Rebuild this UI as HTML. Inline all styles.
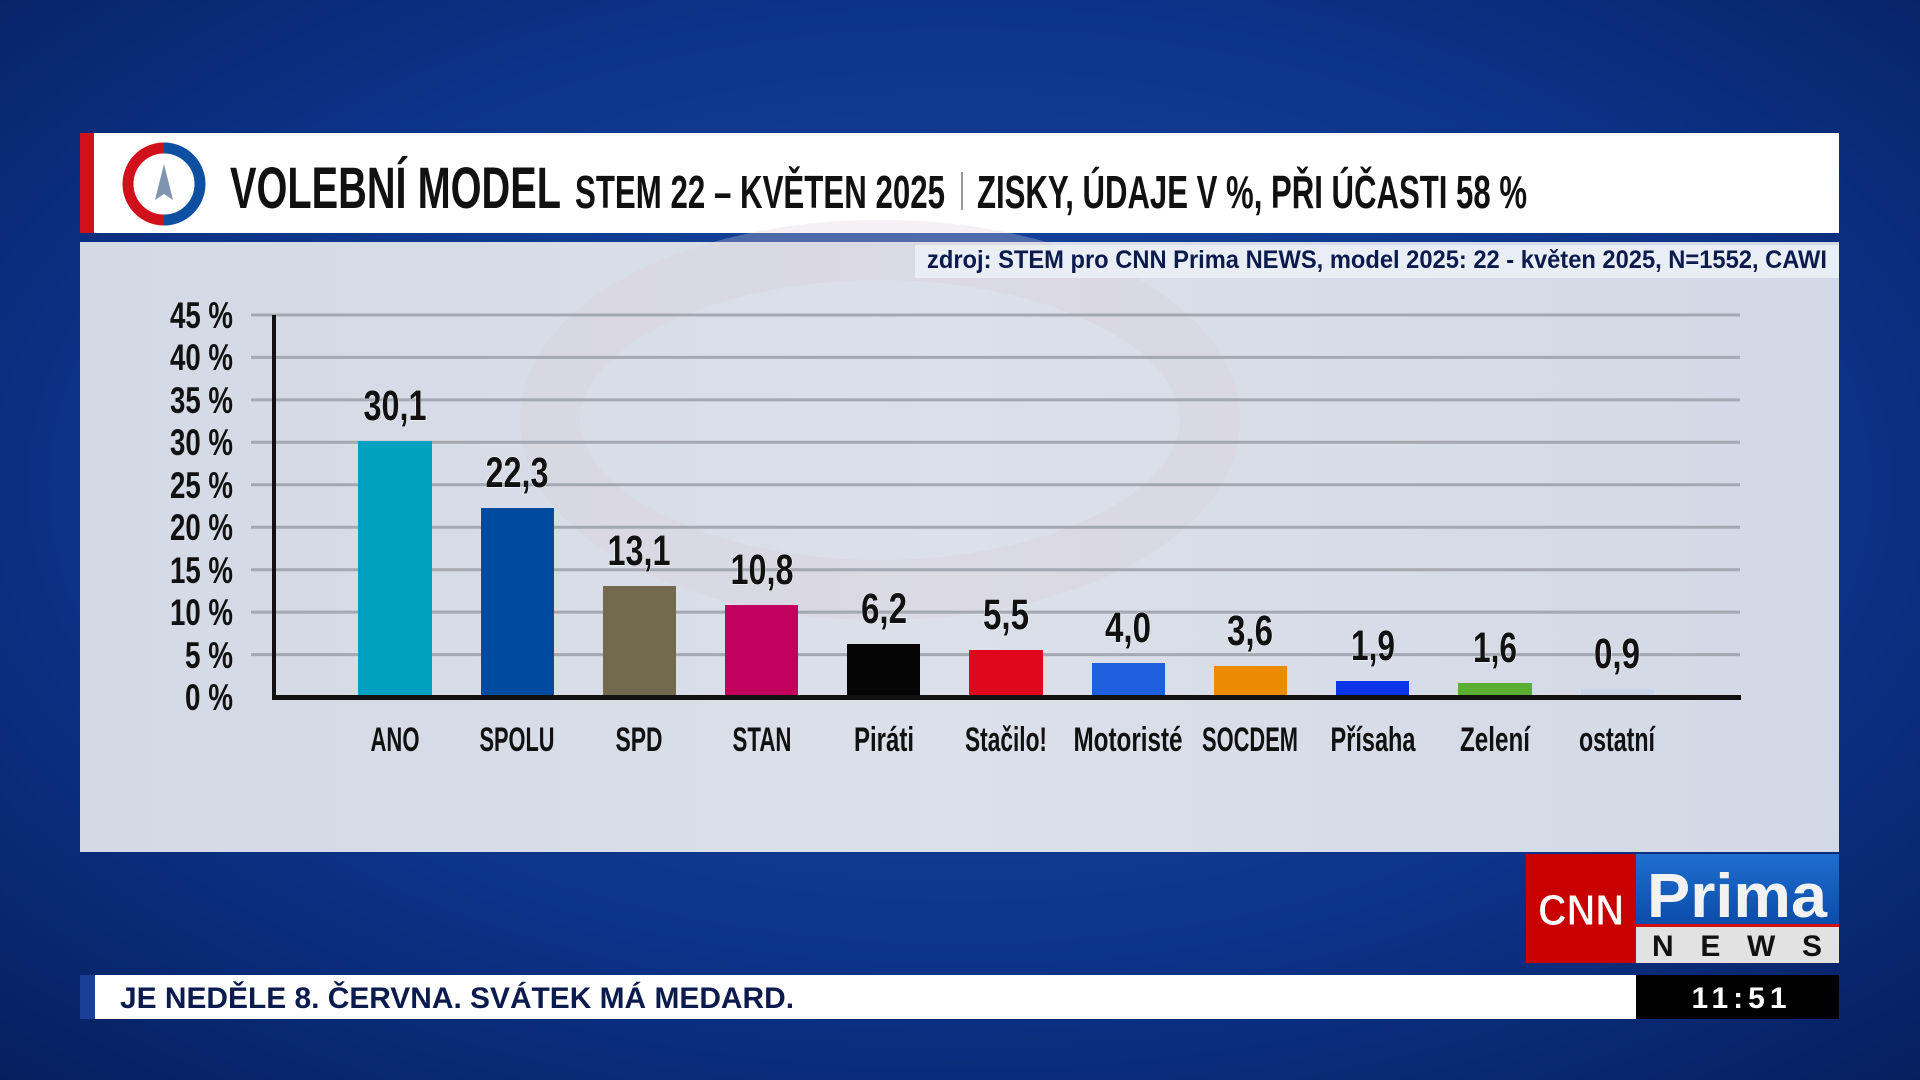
<!DOCTYPE html>
<html><head><meta charset="utf-8"><style>
html,body{margin:0;padding:0;width:1920px;height:1080px;overflow:hidden;background:#0a2c78}
svg{display:block}
text{font-family:"Liberation Sans Narrow","Liberation Sans",sans-serif;font-weight:bold}
</style></head><body>
<svg width="1920" height="1080" viewBox="0 0 1920 1080" xmlns="http://www.w3.org/2000/svg">
<defs>
<radialGradient id="bg" cx="50%" cy="45%" r="75%">
<stop offset="0" stop-color="#1a4fa8"/><stop offset="0.6" stop-color="#0c3388"/><stop offset="1" stop-color="#061f5e"/>
</radialGradient>
<linearGradient id="panel" x1="0" y1="0" x2="1" y2="0">
<stop offset="0" stop-color="#d3d9e5"/><stop offset="0.5" stop-color="#dbe0ea"/><stop offset="1" stop-color="#d2d8e5"/>
</linearGradient>
<linearGradient id="prima" x1="0" y1="0" x2="0" y2="1">
<stop offset="0" stop-color="#1f6fd0"/><stop offset="1" stop-color="#0a4ba8"/>
</linearGradient>
</defs>
<rect width="1920" height="1080" fill="url(#bg)"/>
<rect x="80" y="133" width="1759" height="100" fill="#ffffff"/>
<rect x="80" y="133" width="14" height="100" fill="#d0101a"/>
<circle cx="164" cy="184" r="36" fill="none" stroke="#d0101a" stroke-width="11" stroke-dasharray="113 500" transform="rotate(90 164 184)"/>
<path d="M164 148 A36 36 0 0 1 164 220" fill="none" stroke="#0d4fa0" stroke-width="11"/>
<circle cx="164" cy="184" r="28" fill="#fff"/>
<polygon points="164,164 155,200 164,194 173,200" fill="#7f94ad"/>
<text x="230" y="208" font-size="58" textLength="331" lengthAdjust="spacingAndGlyphs" fill="#111">VOLEBNÍ MODEL</text>
<text x="575" y="208" font-size="46" textLength="370" lengthAdjust="spacingAndGlyphs" fill="#111">STEM 22 – KVĚTEN 2025</text>
<rect x="961" y="172" width="2" height="38" fill="#999"/>
<text x="977" y="208" font-size="46" textLength="550" lengthAdjust="spacingAndGlyphs" fill="#111">ZISKY, ÚDAJE V %, PŘI ÚČASTI 58 %</text>
<rect x="80" y="242" width="1759" height="610" fill="url(#panel)"/>
<ellipse cx="880" cy="420" rx="330" ry="170" fill="none" stroke="#d9cdd8" stroke-width="60" opacity="0.3"/>
<rect x="915" y="245" width="924" height="33" fill="#e9edf4"/>
<text x="927" y="268" font-size="25" textLength="900" lengthAdjust="spacingAndGlyphs" fill="#0b1b4e">zdroj: STEM pro CNN Prima NEWS, model 2025: 22 - květen 2025, N=1552, CAWI</text>
<g stroke="#a3a8b3" stroke-width="3">
<line x1="251" y1="315" x2="1740" y2="315"/>
<line x1="251" y1="357.4" x2="1740" y2="357.4"/>
<line x1="251" y1="399.9" x2="1740" y2="399.9"/>
<line x1="251" y1="442.3" x2="1740" y2="442.3"/>
<line x1="251" y1="484.8" x2="1740" y2="484.8"/>
<line x1="251" y1="527.2" x2="1740" y2="527.2"/>
<line x1="251" y1="569.7" x2="1740" y2="569.7"/>
<line x1="251" y1="612.1" x2="1740" y2="612.1"/>
<line x1="251" y1="654.6" x2="1740" y2="654.6"/>
</g>
<g font-size="37" fill="#111" text-anchor="end" lengthAdjust="spacingAndGlyphs">
<text x="233" y="328" textLength="63" lengthAdjust="spacingAndGlyphs">45 %</text>
<text x="233" y="370" textLength="63" lengthAdjust="spacingAndGlyphs">40 %</text>
<text x="233" y="413" textLength="63" lengthAdjust="spacingAndGlyphs">35 %</text>
<text x="233" y="455" textLength="63" lengthAdjust="spacingAndGlyphs">30 %</text>
<text x="233" y="498" textLength="63" lengthAdjust="spacingAndGlyphs">25 %</text>
<text x="233" y="540" textLength="63" lengthAdjust="spacingAndGlyphs">20 %</text>
<text x="233" y="583" textLength="63" lengthAdjust="spacingAndGlyphs">15 %</text>
<text x="233" y="625" textLength="63" lengthAdjust="spacingAndGlyphs">10 %</text>
<text x="233" y="668" textLength="48" lengthAdjust="spacingAndGlyphs">5 %</text>
<text x="233" y="710" textLength="48" lengthAdjust="spacingAndGlyphs">0 %</text>
</g>
<g>
<rect x="358" y="441" width="74" height="256" fill="#00a0c0"/>
<rect x="481" y="508" width="73" height="189" fill="#004a9f"/>
<rect x="603" y="586" width="73" height="111" fill="#736a4e"/>
<rect x="725" y="605" width="73" height="92" fill="#c2005e"/>
<rect x="847" y="644" width="73" height="53" fill="#050505"/>
<rect x="969" y="650" width="74" height="47" fill="#e0061b"/>
<rect x="1092" y="663" width="73" height="34" fill="#1d5fdd"/>
<rect x="1214" y="666" width="73" height="31" fill="#ec8a00"/>
<rect x="1336" y="681" width="73" height="16" fill="#0b35e8"/>
<rect x="1458" y="683" width="74" height="14" fill="#5aae32"/>
<rect x="1581" y="689" width="73" height="8" fill="#c8d2e8"/>
</g>
<rect x="272" y="315" width="4" height="384" fill="#111"/>
<rect x="272" y="695" width="1469" height="5" fill="#111"/>
<g font-size="43" fill="#111" text-anchor="middle" stroke="#fff" stroke-width="1" paint-order="stroke">
<text x="395" y="420" textLength="63" lengthAdjust="spacingAndGlyphs">30,1</text>
<text x="517" y="487" textLength="63" lengthAdjust="spacingAndGlyphs">22,3</text>
<text x="639" y="565" textLength="63" lengthAdjust="spacingAndGlyphs">13,1</text>
<text x="762" y="584" textLength="63" lengthAdjust="spacingAndGlyphs">10,8</text>
<text x="884" y="623" textLength="46" lengthAdjust="spacingAndGlyphs">6,2</text>
<text x="1006" y="629" textLength="46" lengthAdjust="spacingAndGlyphs">5,5</text>
<text x="1128" y="642" textLength="46" lengthAdjust="spacingAndGlyphs">4,0</text>
<text x="1250" y="645" textLength="46" lengthAdjust="spacingAndGlyphs">3,6</text>
<text x="1373" y="660" textLength="44" lengthAdjust="spacingAndGlyphs">1,9</text>
<text x="1495" y="662" textLength="44" lengthAdjust="spacingAndGlyphs">1,6</text>
<text x="1617" y="668" textLength="46" lengthAdjust="spacingAndGlyphs">0,9</text>
</g>
<g font-size="34" fill="#111" text-anchor="middle">
<text x="395" y="751" textLength="49" lengthAdjust="spacingAndGlyphs">ANO</text>
<text x="517" y="751" textLength="75" lengthAdjust="spacingAndGlyphs">SPOLU</text>
<text x="639" y="751" textLength="47" lengthAdjust="spacingAndGlyphs">SPD</text>
<text x="762" y="751" textLength="59" lengthAdjust="spacingAndGlyphs">STAN</text>
<text x="884" y="751" textLength="60" lengthAdjust="spacingAndGlyphs">Piráti</text>
<text x="1006" y="751" textLength="82" lengthAdjust="spacingAndGlyphs">Stačilo!</text>
<text x="1128" y="751" textLength="109" lengthAdjust="spacingAndGlyphs">Motoristé</text>
<text x="1250" y="751" textLength="96" lengthAdjust="spacingAndGlyphs">SOCDEM</text>
<text x="1373" y="751" textLength="85" lengthAdjust="spacingAndGlyphs">Přísaha</text>
<text x="1495" y="751" textLength="70" lengthAdjust="spacingAndGlyphs">Zelení</text>
<text x="1617" y="751" textLength="76" lengthAdjust="spacingAndGlyphs">ostatní</text>
</g>
<rect x="1526" y="854" width="110" height="109" fill="#c80000"/>
<text x="1581" y="925" font-size="44" fill="#fff" text-anchor="middle" stroke="#c80000" stroke-width="1" textLength="86" lengthAdjust="spacingAndGlyphs" font-family="Liberation Sans">CNN</text>
<rect x="1636" y="854" width="203" height="72" fill="url(#prima)"/>
<rect x="1636" y="924" width="203" height="3" fill="#d01010"/>
<rect x="1636" y="927" width="203" height="36" fill="#e2e2e2"/>
<text x="1647" y="917" font-size="62" fill="#f2f2f2" textLength="180" lengthAdjust="spacingAndGlyphs" font-family="Liberation Sans">Prima</text>
<text x="1737" y="956" font-size="30" fill="#111" text-anchor="middle" font-family="Liberation Sans" font-weight="900" textLength="170" lengthAdjust="spacing">NEWS</text>
<rect x="80" y="975" width="15" height="44" fill="#1a3f99"/>
<rect x="95" y="975" width="1541" height="44" fill="#ffffff"/>
<rect x="1636" y="975" width="203" height="44" fill="#000"/>
<text x="120" y="1008" font-size="30" fill="#0b1b4e" textLength="674" lengthAdjust="spacingAndGlyphs" font-family="Liberation Sans">JE NEDĚLE 8. ČERVNA. SVÁTEK MÁ MEDARD.</text>
<text x="1739" y="1008" font-size="30" fill="#fff" text-anchor="middle" font-family="Liberation Sans" textLength="95" lengthAdjust="spacing">11:51</text>
</svg>
</body></html>
